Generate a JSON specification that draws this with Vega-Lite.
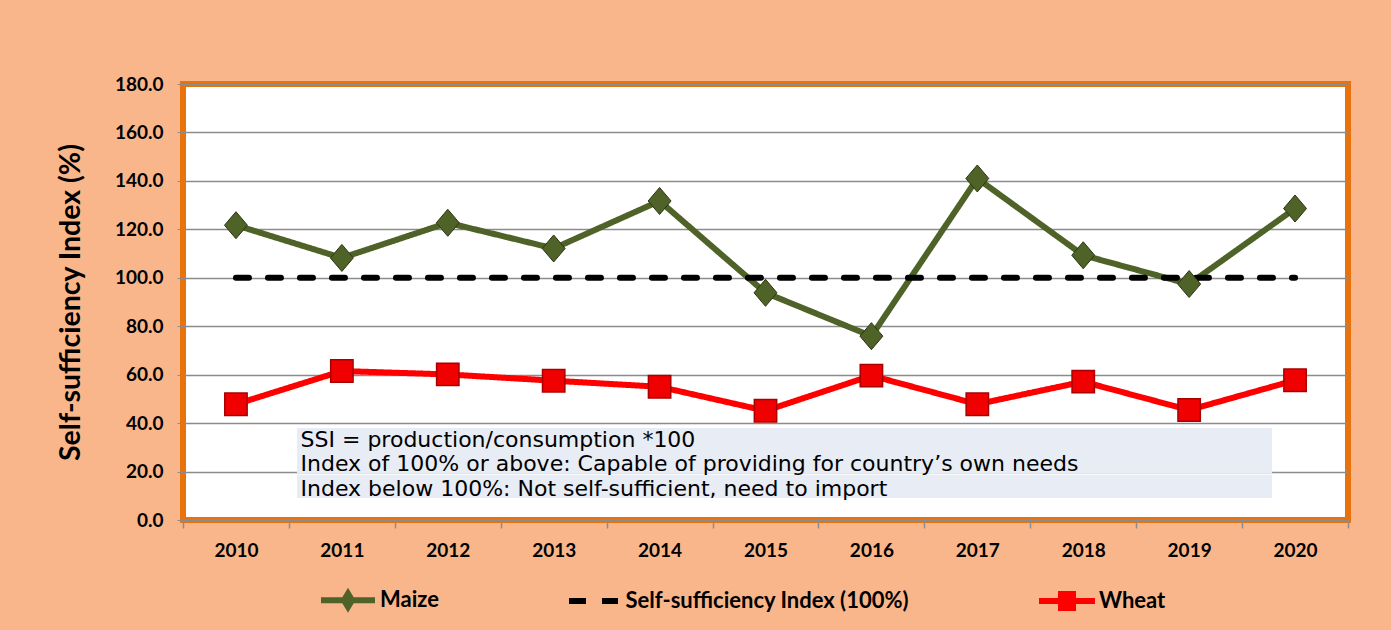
{
  "$schema": "https://vega.github.io/schema/vega-lite/v6.json",
  "width": 1165,
  "height": 436,
  "autosize": {"type": "none"},
  "padding": {"left": 183, "top": 84, "right": 43, "bottom": 110},
  "background": "#FAB68B",
  "config": {
    "view": {"fill": "white", "stroke": "#E8720C", "strokeWidth": 6},
    "font": "Lato"
  },
  "datasets": {
    "ssi": [
      {"year": 2010, "series": "Maize", "value": 121.7},
      {"year": 2011, "series": "Maize", "value": 108.2},
      {"year": 2012, "series": "Maize", "value": 122.7},
      {"year": 2013, "series": "Maize", "value": 112.1},
      {"year": 2014, "series": "Maize", "value": 131.7},
      {"year": 2015, "series": "Maize", "value": 93.8},
      {"year": 2016, "series": "Maize", "value": 75.9},
      {"year": 2017, "series": "Maize", "value": 141.0},
      {"year": 2018, "series": "Maize", "value": 109.3},
      {"year": 2019, "series": "Maize", "value": 97.4},
      {"year": 2020, "series": "Maize", "value": 128.6},
      {"year": 2010, "series": "Self-sufficiency Index (100%)", "value": 100},
      {"year": 2011, "series": "Self-sufficiency Index (100%)", "value": 100},
      {"year": 2012, "series": "Self-sufficiency Index (100%)", "value": 100},
      {"year": 2013, "series": "Self-sufficiency Index (100%)", "value": 100},
      {"year": 2014, "series": "Self-sufficiency Index (100%)", "value": 100},
      {"year": 2015, "series": "Self-sufficiency Index (100%)", "value": 100},
      {"year": 2016, "series": "Self-sufficiency Index (100%)", "value": 100},
      {"year": 2017, "series": "Self-sufficiency Index (100%)", "value": 100},
      {"year": 2018, "series": "Self-sufficiency Index (100%)", "value": 100},
      {"year": 2019, "series": "Self-sufficiency Index (100%)", "value": 100},
      {"year": 2020, "series": "Self-sufficiency Index (100%)", "value": 100},
      {"year": 2010, "series": "Wheat", "value": 47.8},
      {"year": 2011, "series": "Wheat", "value": 61.5},
      {"year": 2012, "series": "Wheat", "value": 60.1},
      {"year": 2013, "series": "Wheat", "value": 57.5},
      {"year": 2014, "series": "Wheat", "value": 55.0},
      {"year": 2015, "series": "Wheat", "value": 45.1},
      {"year": 2016, "series": "Wheat", "value": 59.6},
      {"year": 2017, "series": "Wheat", "value": 47.8},
      {"year": 2018, "series": "Wheat", "value": 57.1},
      {"year": 2019, "series": "Wheat", "value": 45.4},
      {"year": 2020, "series": "Wheat", "value": 57.7}
    ],
    "notes": [
      {"line": 1, "note": "SSI =  production/consumption *100"},
      {"line": 2, "note": "Index of 100% or above: Capable of providing for country’s own needs"},
      {"line": 3, "note": "Index below 100%: Not self-sufficient, need to import"}
    ]
  },
  "resolve": {"axis": {"x": "independent"}},
  "layer": [
    {
      "data": {"name": "notes"},
      "transform": [{"filter": "datum.line === 1"}],
      "mark": {"type": "rect", "color": "#E8ECF4"},
      "encoding": {
        "x": {"datum": 2010.576, "type": "quantitative", "scale": {"domain": [2009.5, 2020.5], "nice": false, "zero": false},
          "axis": {
            "orient": "bottom",
            "title": null,
            "values": [2009.5, 2010.5, 2011.5, 2012.5, 2013.5, 2014.5, 2015.5, 2016.5, 2017.5, 2018.5, 2019.5, 2020.5],
            "labels": false,
            "grid": false,
            "domain": false,
            "ticks": true,
            "tickSize": 8,
            "tickColor": "#8C8C8C",
            "tickWidth": 1.5
          }
        },
        "x2": {"datum": 2019.783},
        "y": {"datum": 38.0, "type": "quantitative", "scale": {"domain": [0, 180], "nice": false}},
        "y2": {"datum": 19.3}
      }
    },
    {
      "data": {"name": "notes"},
      "transform": [{"filter": "datum.line === 3"}],
      "mark": {"type": "rect", "color": "#E8ECF4"},
      "encoding": {
        "x": {"datum": 2010.576, "type": "quantitative", "axis": null},
        "x2": {"datum": 2019.783},
        "y": {"datum": 18.7, "type": "quantitative"},
        "y2": {"datum": 9.1}
      }
    },
    {
      "data": {"name": "notes"},
      "transform": [{"filter": "datum.line === 1"}],
      "mark": {"type": "text", "align": "left", "baseline": "middle", "font": "DejaVu Sans", "fontSize": 22, "color": "#000000"},
      "encoding": {
        "x": {"datum": 2010.61, "type": "quantitative", "axis": null},
        "y": {"datum": 33.0, "type": "quantitative"},
        "text": {"field": "note"}
      }
    },
    {
      "data": {"name": "notes"},
      "transform": [{"filter": "datum.line === 2"}],
      "mark": {"type": "text", "align": "left", "baseline": "middle", "font": "DejaVu Sans", "fontSize": 22, "color": "#000000"},
      "encoding": {
        "x": {"datum": 2010.61, "type": "quantitative", "axis": null},
        "y": {"datum": 23.1, "type": "quantitative"},
        "text": {"field": "note"}
      }
    },
    {
      "data": {"name": "notes"},
      "transform": [{"filter": "datum.line === 3"}],
      "mark": {"type": "text", "align": "left", "baseline": "middle", "font": "DejaVu Sans", "fontSize": 22, "color": "#000000"},
      "encoding": {
        "x": {"datum": 2010.61, "type": "quantitative", "axis": null},
        "y": {"datum": 12.8, "type": "quantitative"},
        "text": {"field": "note"}
      }
    },
    {
      "data": {"name": "ssi"},
      "mark": {"type": "line", "strokeWidth": 6, "strokeCap": "round", "strokeJoin": "round"},
      "encoding": {
        "x": {
          "field": "year",
          "type": "quantitative",
          "axis": {
            "orient": "bottom",
            "title": null,
            "values": [2010, 2011, 2012, 2013, 2014, 2015, 2016, 2017, 2018, 2019, 2020],
            "format": "d",
            "grid": false,
            "domain": false,
            "ticks": false,
            "labelPadding": 21,
            "labelFont": "Lato",
            "labelFontSize": 19,
            "labelFontWeight": "bold",
            "labelColor": "#000000"
          }
        },
        "y": {
          "field": "value",
          "type": "quantitative",
          "axis": {
            "title": "Self-sufficiency Index (%)",
            "values": [0, 20, 40, 60, 80, 100, 120, 140, 160, 180],
            "format": ".1f",
            "grid": true,
            "gridColor": "#8C8C8C",
            "gridWidth": 1.5,
            "domain": false,
            "tickColor": "#8C8C8C",
            "tickSize": 6,
            "labelPadding": 14,
            "labelFont": "Lato",
            "labelFontSize": 19,
            "labelFontWeight": "bold",
            "labelColor": "#000000",
            "titleFont": "Lato",
            "titleFontSize": 28.5,
            "titleFontWeight": "bold",
            "titleColor": "#000000",
            "titlePadding": 29
          }
        },
        "color": {
          "field": "series",
          "type": "nominal",
          "scale": {
            "domain": ["Maize", "Self-sufficiency Index (100%)", "Wheat"],
            "range": ["#4F6228", "#000000", "#FF0000"]
          },
          "legend": {
            "orient": "none",
            "legendX": 154,
            "legendY": 505,
            "direction": "horizontal",
            "title": null,
            "labelFont": "Lato",
            "labelFontSize": 22,
            "labelFontWeight": "bold",
            "labelColor": "#000000",
            "labelLimit": 0,
            "symbolSize": 400,
            "labelOffset": 21,
            "columnPadding": 129.5,
            "encode": {
              "symbols": {
                "update": {
                  "shape": {"signal": "datum.value === 'Maize' ? 'M-2.7,-0.3L2.7,-0.3L2.7,0.3L-2.7,0.3Z M0,-1.25L0.75,0L0,1.25L-0.75,0Z' : datum.value === 'Wheat' ? 'M-2.8,-0.3L2.8,-0.3L2.8,0.3L-2.8,0.3Z M-0.9,-1L0.9,-1L0.9,1L-0.9,1Z' : 'M-2.45,-0.3L-0.75,-0.3L-0.75,0.3L-2.45,0.3Z M0.85,-0.3L2.45,-0.3L2.45,0.3L0.85,0.3Z'"},
                  "fill": {"scale": "color", "field": "value"},
                  "fillOpacity": {"value": 1},
                  "opacity": {"value": 1},
                  "strokeWidth": {"value": 0}
                }
              }
            }
          }
        },
        "strokeDash": {
          "field": "series",
          "type": "nominal",
          "scale": {
            "domain": ["Maize", "Self-sufficiency Index (100%)", "Wheat"],
            "range": [[1, 0], [13, 19], [1, 0]]
          },
          "legend": null
        }
      }
    },
    {
      "data": {"name": "ssi"},
      "transform": [{"filter": "datum.series === 'Maize'"}],
      "mark": {"type": "point", "shape": "M0,-1L0.85,0L0,1L-0.85,0Z", "size": 729, "filled": true, "fill": "#4F6228", "stroke": "#2B3515", "strokeWidth": 1, "opacity": 1},
      "encoding": {
        "x": {"field": "year", "type": "quantitative", "axis": null},
        "y": {"field": "value", "type": "quantitative"}
      }
    },
    {
      "data": {"name": "ssi"},
      "transform": [{"filter": "datum.series === 'Wheat'"}],
      "mark": {"type": "point", "shape": "square", "size": 500, "filled": true, "fill": "#F00000", "stroke": "#A80000", "strokeWidth": 1.5, "opacity": 1},
      "encoding": {
        "x": {"field": "year", "type": "quantitative", "axis": null},
        "y": {"field": "value", "type": "quantitative"}
      }
    }
  ]
}
